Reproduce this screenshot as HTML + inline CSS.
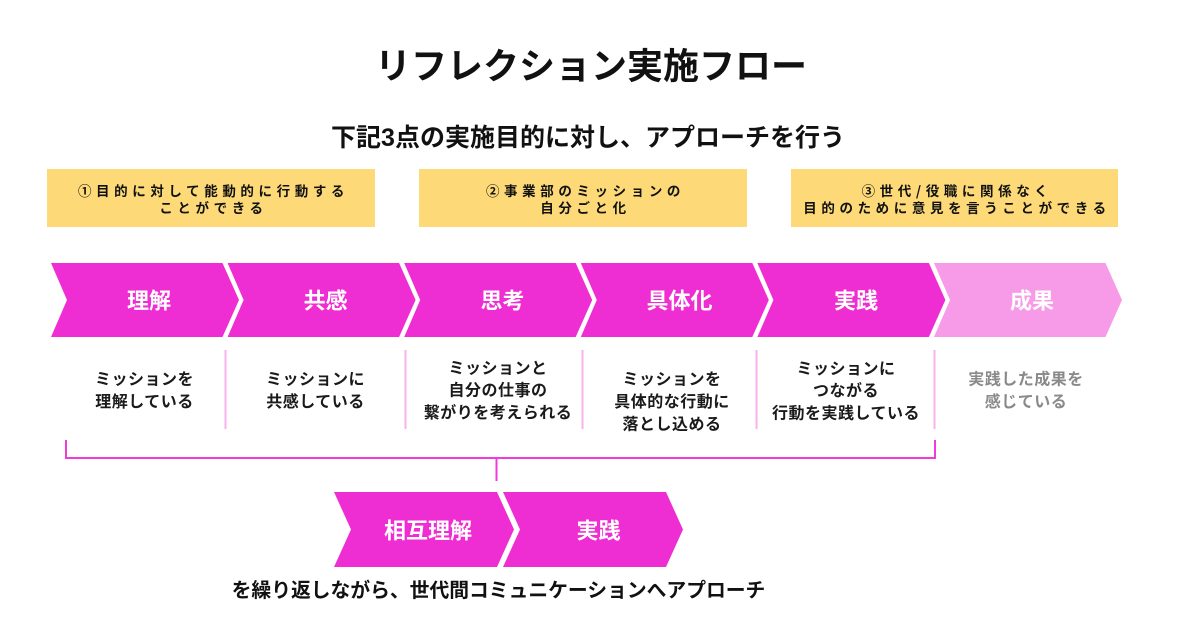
<!DOCTYPE html>
<html>
<head>
<meta charset="utf-8">
<style>
  html,body{margin:0;padding:0;background:#fff;}
  body{width:1180px;height:632px;overflow:hidden;}
  svg{display:block;}
  text{font-family:"Liberation Sans","Noto Sans CJK JP",sans-serif;font-weight:bold;}
  .cjk{font-family:"Noto Sans CJK JP","Liberation Sans",sans-serif;}
</style>
</head>
<body>
<svg width="1180" height="632" viewBox="0 0 1180 632" xmlns="http://www.w3.org/2000/svg">
  <rect x="0" y="0" width="1180" height="632" fill="#ffffff"/>

  <!-- Title -->
  <text x="591" y="66" font-size="36" text-anchor="middle" dominant-baseline="central" fill="#111">リフレクション実施フロー</text>
  <!-- Subtitle -->
  <text x="588" y="138" font-size="25" text-anchor="middle" dominant-baseline="central" fill="#111">下記3点の実施目的に対し、アプローチを行う</text>

  <!-- Yellow boxes -->
  <rect x="47" y="169" width="328" height="58" fill="#FDDA77"/>
  <rect x="419" y="169" width="328" height="58" fill="#FDDA77"/>
  <rect x="791" y="169" width="327" height="58" fill="#FDDA77"/>

  <g class="cjk" font-size="13.5" letter-spacing="4.6" text-anchor="middle" dominant-baseline="central" fill="#111">
    <text class="cjk" x="213.5" y="190">①目的に対して能動的に行動する</text>
    <text class="cjk" x="213.5" y="207">ことができる</text>
    <text class="cjk" x="585.5" y="190">②事業部のミッションの</text>
    <text class="cjk" x="585.5" y="207">自分ごと化</text>
    <text class="cjk" x="957" y="190">③世代/役職に関係なく</text>
    <text class="cjk" x="957" y="207">目的のために意見を言うことができる</text>
  </g>

  <!-- Top chevrons -->
  <g fill="#EE2ED2">
    <polygon points="51,263 222.5,263 239,300 222.5,337 51,337 67,300"/>
    <polygon points="227.6,263 399.1,263 415.6,300 399.1,337 227.6,337 243.6,300"/>
    <polygon points="404.2,263 575.7,263 592.2,300 575.7,337 404.2,337 420.2,300"/>
    <polygon points="580.8,263 752.3,263 768.8,300 752.3,337 580.8,337 596.8,300"/>
    <polygon points="757.4,263 928.9,263 945.4,300 928.9,337 757.4,337 773.4,300"/>
  </g>
  <polygon points="934,263 1105.5,263 1122,300 1105.5,337 934,337 950,300" fill="#F79BE8"/>

  <g font-size="22" text-anchor="middle" dominant-baseline="central" fill="#ffffff">
    <text x="149" y="301">理解</text>
    <text x="325.6" y="301">共感</text>
    <text x="502.5" y="301">思考</text>
    <text x="679.5" y="301">具体化</text>
    <text x="856" y="301">実践</text>
    <text x="1032" y="301">成果</text>
  </g>

  <!-- Dividers -->
  <g stroke="#F9B2EE" stroke-width="2">
    <line x1="225.5" y1="350" x2="225.5" y2="429"/>
    <line x1="405.5" y1="350" x2="405.5" y2="429"/>
    <line x1="582.5" y1="350" x2="582.5" y2="429"/>
    <line x1="756.5" y1="350" x2="756.5" y2="429"/>
    <line x1="934.5" y1="350" x2="934.5" y2="429"/>
  </g>

  <!-- Column texts -->
  <g font-size="16" text-anchor="middle" dominant-baseline="central" fill="#1a1a1a" letter-spacing="0.5">
    <text x="144.5" y="380">ミッションを</text>
    <text x="144.5" y="402.7">理解している</text>

    <text x="315.5" y="380">ミッションに</text>
    <text x="315.5" y="402.7">共感している</text>

    <text x="498" y="369">ミッションと</text>
    <text x="498" y="391">自分の仕事の</text>
    <text x="498" y="413.5">繋がりを考えられる</text>

    <text x="672" y="380">ミッションを</text>
    <text x="672" y="402.7">具体的な行動に</text>
    <text x="672" y="425">落とし込める</text>

    <text x="846" y="369.3">ミッションに</text>
    <text x="846" y="391.7">つながる</text>
    <text x="846" y="414">行動を実践している</text>
  </g>
  <g font-size="16" text-anchor="middle" dominant-baseline="central" fill="#8a8a8a" letter-spacing="0.5">
    <text x="1026" y="380">実践した成果を</text>
    <text x="1026" y="402.7">感じている</text>
  </g>

  <!-- Bracket -->
  <g stroke="#F23ADB" stroke-width="2" fill="none">
    <polyline points="66,440 66,458 935,458 935,440"/>
    <line x1="496.5" y1="458" x2="496.5" y2="481"/>
  </g>

  <!-- Bottom chevrons -->
  <g fill="#EE2ED2">
    <polygon points="334,492 497,492 514,529.5 497,567 334,567 351,529.5"/>
    <polygon points="503,492 666,492 683,529.5 666,567 503,567 520,529.5"/>
  </g>
  <g font-size="22" text-anchor="middle" dominant-baseline="central" fill="#ffffff">
    <text x="428" y="531">相互理解</text>
    <text x="598.5" y="531">実践</text>
  </g>

  <!-- Bottom caption -->
  <text x="498.5" y="591" font-size="19.8" text-anchor="middle" dominant-baseline="central" fill="#111">を繰り返しながら、世代間コミュニケーションへアプローチ</text>
</svg>
</body>
</html>
